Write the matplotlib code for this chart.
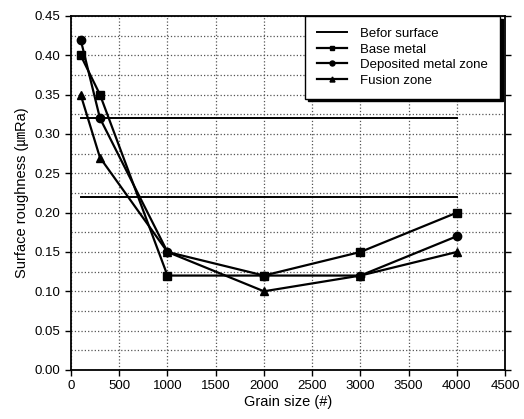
import matplotlib
matplotlib.use('Agg')
import matplotlib.pyplot as plt
from matplotlib.ticker import MultipleLocator

plt.rcParams['font.family'] = ['Liberation Sans', 'Noto Sans CJK SC', 'DejaVu Sans']

grain = [100, 300, 1000, 2000, 3000, 4000]
base_metal = [0.40, 0.35, 0.12, 0.12, 0.15, 0.20]
deposited = [0.42, 0.32, 0.15, 0.12, 0.12, 0.17]
fusion = [0.35, 0.27, 0.15, 0.10, 0.12, 0.15]
befor_x = [100, 4000]
befor_levels = [0.32, 0.22]

fig = plt.figure(figsize=(5.24, 4.19), dpi=100)
ax = fig.add_axes([0.1355, 0.117, 0.8285, 0.845])

# befor surface: two flat reference lines
for i, lv in enumerate(befor_levels):
    ax.plot(befor_x, [lv, lv], color='black', lw=1.4,
            label='Befor surface' if i == 0 else None)
ax.plot(grain, base_metal, color='black', lw=1.6, marker='s', ms=6, label='Base metal')
ax.plot(grain, deposited, color='black', lw=1.6, marker='o', ms=6, label='Deposited metal zone')
ax.plot(grain, fusion, color='black', lw=1.6, marker='^', ms=6, label='Fusion zone')

ax.set_xlim(0, 4500)
ax.set_ylim(0, 0.45)
ax.xaxis.set_major_locator(MultipleLocator(500))
ax.yaxis.set_major_locator(MultipleLocator(0.05))
ax.yaxis.set_minor_locator(MultipleLocator(0.025))
ax.yaxis.set_major_formatter(plt.FormatStrFormatter('%.2f'))
ax.grid(True, which='both', axis='y', ls=':', color='#555555', lw=0.9)
ax.grid(True, which='major', axis='x', ls=':', color='#555555', lw=0.9)
ax.tick_params(which='major', direction='out', length=4, width=1, labelsize=9.5, right=True)
ax.tick_params(which='minor', length=0)
for s in ax.spines.values():
    s.set_linewidth(1.3)

ax.set_xlabel('Grain size (#)', fontsize=10.5, labelpad=2)
ax.set_ylabel('Surface roughness (㎛Ra)', fontsize=10.5, labelpad=4)

leg = ax.legend(loc='upper right', fontsize=9.5, frameon=True, fancybox=False,
                shadow={'color': 'black', 'alpha': 1}, edgecolor='black',
                markerscale=0.6, handlelength=2.3, handletextpad=1.0,
                borderpad=0.9, labelspacing=0.25, borderaxespad=0,
                bbox_to_anchor=(0.988, 1.0))
leg.get_frame().set_linewidth(1)

fig.savefig('out.png', dpi=100)
